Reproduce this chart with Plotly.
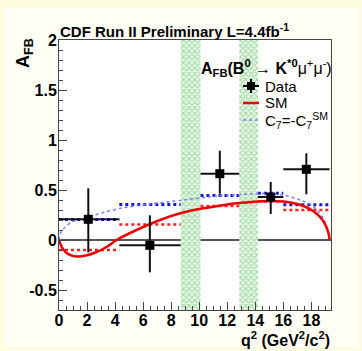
import plotly.graph_objects as go

# ---------------- data ----------------
# measured data points (q^2 centre, A_FB) with asymmetric errors
data_q2 = [2.09, 6.48, 11.47, 15.10, 17.64]
data_afb = [0.207, -0.053, 0.663, 0.43, 0.707]
data_ey_plus = [0.31, 0.30, 0.23, 0.15, 0.16]
data_ey_minus = [0.33, 0.27, 0.20, 0.17, 0.25]
bin_lo = [0.0, 4.3, 10.09, 14.18, 16.0]
bin_hi = [4.3, 8.68, 12.86, 16.0, 19.3]

# binned predictions
sm_bin = [-0.10, 0.155, 0.34, 0.385, 0.30]
c7_bin = [0.205, 0.354, 0.446, 0.468, 0.352]

# SM curve
sm_q2 = [0.0, 0.2, 0.5, 0.9, 1.3, 2.0, 2.5, 3.0, 3.5, 4.1, 5.0, 6.5, 8.0, 9.0,
         10.0, 11.3, 12.5, 13.7, 15.0, 16.0, 17.0, 17.6, 18.0, 18.4, 18.8,
         19.0, 19.15, 19.25, 19.3]
sm_afb = [0.0, -0.07, -0.125, -0.155, -0.165, -0.152, -0.13, -0.10, -0.06, 0.0,
          0.065, 0.16, 0.24, 0.28, 0.31, 0.34, 0.365, 0.38, 0.39, 0.385, 0.36,
          0.33, 0.30, 0.26, 0.20, 0.15, 0.10, 0.05, 0.0]

# flipped C7 curve
c7_q2 = [0.0, 0.05, 0.15, 0.3, 0.45, 0.9, 1.5, 2.1, 3.3, 4.5, 6.5, 8.9, 11.3,
         13.7, 15.0, 16.0, 17.2, 18.0, 18.4, 18.8, 19.0, 19.15, 19.25, 19.3]
c7_afb = [0.0, 0.04, 0.08, 0.11, 0.13, 0.18, 0.21, 0.233, 0.28, 0.32, 0.36,
          0.40, 0.44, 0.46, 0.465, 0.45, 0.40, 0.35, 0.30, 0.23, 0.17, 0.11,
          0.05, 0.0]

# charmonium veto regions
veto_lo = [8.68, 12.86]
veto_hi = [10.09, 14.18]

x_ticks = [0, 2, 4, 6, 8, 10, 12, 14, 16, 18]
x_tick_text = ["0", "2", "4", "6", "8", "10", "12", "14", "16", "18"]
y_ticks = [-0.5, 0, 0.5, 1, 1.5, 2]
y_tick_text = ["-0.5", "0", "0.5", "1", "1.5", "2"]

XMIN, XMAX = 0.0, 19.4
YMIN, YMAX = -0.7, 2.0

# ---------------- layout geometry ----------------
W, H = 362, 351
L, R, T, B = 59, 31, 40, 41
PW, PH = W - L - R, H - T - B


def paper(xp, yp):
    return (xp - L) / PW, (H - B - yp) / PH


FONT = "Liberation Sans, Arial, sans-serif"

fig = go.Figure()

# veto bands (hatched)
fig.add_trace(go.Bar(
    x=[(a + b) / 2 for a, b in zip(veto_lo, veto_hi)],
    y=[YMAX - YMIN] * len(veto_lo),
    base=[YMIN] * len(veto_lo),
    width=[b - a for a, b in zip(veto_lo, veto_hi)],
    marker=dict(color="white", line=dict(width=0),
                pattern=dict(shape="x", fgcolor="#5cc05c", bgcolor="#eef9ee",
                             size=4, solidity=0.5)),
    showlegend=False, hoverinfo="skip"))

# binned predictions
def segs(vals):
    xs, ys = [], []
    for a, b, v in zip(bin_lo, bin_hi, vals):
        xs += [a, b, None]
        ys += [v, v, None]
    return xs, ys

sx, sy = segs(sm_bin)
fig.add_trace(go.Scatter(x=sx, y=sy, mode="lines",
                         line=dict(color="#ff2020", width=2.5, dash="dot"),
                         showlegend=False, hoverinfo="skip"))
cx, cy = segs(c7_bin)
fig.add_trace(go.Scatter(x=cx, y=cy, mode="lines",
                         line=dict(color="#1a1acc", width=3, dash="dot"),
                         showlegend=False, hoverinfo="skip"))

# curves
fig.add_trace(go.Scatter(x=c7_q2, y=c7_afb, mode="lines",
                         line=dict(color="#6f80ff", width=1.5, dash="dot", shape="spline", smoothing=0.8),
                         showlegend=False))
fig.add_trace(go.Scatter(x=sm_q2, y=sm_afb, mode="lines",
                         line=dict(color="#ee0000", width=2.5, shape="spline", smoothing=0.8),
                         showlegend=False))

# data
fig.add_trace(go.Scatter(
    x=data_q2, y=data_afb, mode="markers",
    marker=dict(symbol="square", size=9, color="black"),
    error_y=dict(type="data", symmetric=False, array=data_ey_plus,
                 arrayminus=data_ey_minus, color="#111", thickness=2, width=0),
    error_x=dict(type="data", symmetric=False,
                 array=[h - c for h, c in zip(bin_hi, data_q2)],
                 arrayminus=[c - l for l, c in zip(bin_lo, data_q2)],
                 color="#111", thickness=2, width=0),
    showlegend=False))

annotations = []
shapes = []

# background frame (pale yellow border)
shapes.append(dict(type="rect", xref="paper", yref="paper",
                   x0=paper(4, 0)[0], x1=paper(358, 0)[0],
                   y0=paper(0, 347)[1], y1=paper(0, 8)[1],
                   fillcolor="#fffff6", line=dict(width=0), layer="below"))
shapes.append(dict(type="rect", xref="paper", yref="paper", x0=0, x1=1, y0=0, y1=1,
                   fillcolor="white", line=dict(width=0), layer="below"))

# title
tx, ty = paper(58, 31)
annotations.append(dict(x=tx, y=ty, xref="paper", yref="paper", xanchor="left", yanchor="middle",
                        text="<b>CDF Run II Preliminary L=4.4fb<sup>-1</sup></b>", showarrow=False,
                        font=dict(family=FONT, size=15, color="black")))
# y title
tx, ty = paper(24, 53)
annotations.append(dict(x=tx, y=ty, xref="paper", yref="paper", xanchor="center", yanchor="middle",
                        text="<b>A<sub>FB</sub></b>", textangle=-90, showarrow=False,
                        font=dict(family=FONT, size=18, color="black")))
# x title
tx, ty = paper(332, 339)
annotations.append(dict(x=tx, y=ty, xref="paper", yref="paper", xanchor="right", yanchor="middle",
                        text="<b>q<sup>2</sup> (GeV<sup>2</sup>/c<sup>2</sup>)</b>", showarrow=False,
                        font=dict(family=FONT, size=16, color="black")))

# legend header
tx, ty = paper(199, 68)
annotations.append(dict(x=tx, y=ty, xref="paper", yref="paper", xanchor="left", yanchor="middle",
                        text="<b>A<sub>FB</sub>(B<sup>0</sup></b> → <b>K<sup>*0</sup></b>μ<sup>+</sup>μ<sup>-</sup>)",
                        showarrow=False, font=dict(family=FONT, size=16, color="black")))
# legend entries
for label, yp in [("Data", 86), ("SM", 103), ("C<sub>7</sub>=-C<sub>7</sub><sup>SM</sup>", 120)]:
    tx, ty = paper(263, yp)
    annotations.append(dict(x=tx, y=ty, xref="paper", yref="paper", xanchor="left", yanchor="middle",
                            text=label, showarrow=False, font=dict(family=FONT, size=15, color="black")))

# legend symbols
x0, _ = paper(243, 0)
x1, _ = paper(259, 0)
xm, ym = paper(251, 86)
_, yt = paper(0, 79)
_, yb = paper(0, 93)
shapes.append(dict(type="line", xref="paper", yref="paper", x0=x0, x1=x1, y0=ym, y1=ym,
                   line=dict(color="black", width=2)))
shapes.append(dict(type="line", xref="paper", yref="paper", x0=xm, x1=xm, y0=yb, y1=yt,
                   line=dict(color="black", width=2)))
sx0, sy0 = paper(247, 90)
sx1, sy1 = paper(255, 82)
shapes.append(dict(type="rect", xref="paper", yref="paper", x0=sx0, x1=sx1, y0=sy0, y1=sy1,
                   fillcolor="black", line=dict(width=0)))
_, ysm = paper(0, 103)
shapes.append(dict(type="line", xref="paper", yref="paper", x0=x0, x1=x1, y0=ysm, y1=ysm,
                   line=dict(color="#ee0000", width=2.5)))
_, yc7 = paper(0, 120)
shapes.append(dict(type="line", xref="paper", yref="paper", x0=x0, x1=x1, y0=yc7, y1=yc7,
                   line=dict(color="#6f80ff", width=1.5, dash="dot")))

fig.update_layout(
    width=W, height=H,
    margin=dict(l=L, r=R, t=T, b=B, pad=0),
    paper_bgcolor="#fdfde2",
    plot_bgcolor="white",
    barmode="overlay",
    showlegend=False,
    annotations=annotations,
    shapes=shapes,
    xaxis=dict(range=[XMIN, XMAX], tickvals=x_ticks,
               ticktext=["<b>%s</b>" % t for t in x_tick_text],
               ticks="inside", ticklen=8, tickwidth=1, ticklabelstandoff=-4,
               tickcolor="#444", showline=True, linecolor="#444", linewidth=1, mirror=True,
               showgrid=False, zeroline=False,
               minor=dict(dtick=0.5, tick0=0, ticks="inside", ticklen=4, tickcolor="#444"),
               tickfont=dict(family=FONT, size=16, color="black"),
               layer="above traces"),
    yaxis=dict(range=[YMIN, YMAX], tickvals=y_ticks,
               ticktext=["<b>%s</b>" % t for t in y_tick_text], ticks="inside",
               ticklen=8, tickwidth=1, tickcolor="#444", showline=True, linecolor="#444",
               linewidth=1, mirror=True, showgrid=False, ticklabelstandoff=-2,
               zeroline=True, zerolinecolor="#555", zerolinewidth=1.5,
               minor=dict(dtick=0.1, tick0=0, ticks="inside", ticklen=4, tickcolor="#444"),
               tickfont=dict(family=FONT, size=16, color="black"),
               layer="above traces"),
)

fig.write_html("out.html", config={"displayModeBar": False},
               post_script="document.body.style.margin='0';document.body.style.padding='0';"
                           "document.body.style.overflow='hidden';")
